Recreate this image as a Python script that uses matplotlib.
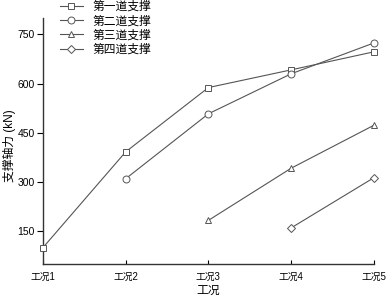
import matplotlib
matplotlib.use("Agg")
import matplotlib.pyplot as plt
import numpy as np

categories = ["工况1", "工况2", "工况3", "工况4", "工况5"]
series_names = ["第一道支撑", "第二道支撑", "第三道支撑", "第四道支撑"]
s1 = [100, 392, 588, 642, 697]
s2 = [None, 310, 508, 630, 724]
s3 = [None, None, 183, 342, 473]
s4 = [None, None, None, 160, 313]
yticks = [150, 300, 450, 600, 750]

plt.rcParams['font.family'] = ['Liberation Sans', 'Noto Sans CJK SC']

fig = plt.figure(figsize=(3.89, 3.01), dpi=100)
ax = fig.add_axes([0.1105, 0.123, 0.8505, 0.817])

x = np.arange(1, len(categories) + 1)
markers = ['s', 'o', '^', 'D']
msizes = [4.5, 5, 5, 4.2]
for name, vals, m, ms in zip(series_names, [s1, s2, s3, s4], markers, msizes):
    xs = [xi for xi, v in zip(x, vals) if v is not None]
    ys = [v for v in vals if v is not None]
    ax.plot(xs, ys, color='#555555', lw=0.8, marker=m, ms=ms,
            mfc='white', mec='#555555', mew=0.7, label=name, clip_on=False, zorder=3)

ax.set_xlim(1, 5)
ax.set_ylim(50, 800)
ax.set_xticks(x)
ax.set_xticklabels(categories, fontsize=7)
ax.set_yticks(yticks)
ax.tick_params(axis='y', direction='out', labelsize=7.5, length=4, width=0.8, pad=2)
ax.tick_params(axis='x', direction='in', length=3, width=0.8, pad=6)
for s in ['top', 'right']:
    ax.spines[s].set_visible(False)
for s in ['left', 'bottom']:
    ax.spines[s].set_linewidth(1.0)
    ax.spines[s].set_color('#333333')

ax.set_xlabel("工况", fontsize=8.5, labelpad=2)
ax.set_ylabel("支撑轴力 (kN)", fontsize=8.5)
ax.yaxis.set_label_coords(-0.082, 0.48)

leg = ax.legend(loc='upper left', bbox_to_anchor=(0.05, 1.07), frameon=False,
                fontsize=8.5, handlelength=2.0, handletextpad=0.8,
                labelspacing=0.2, borderaxespad=0, borderpad=0)

fig.savefig("out.png", dpi=100)
